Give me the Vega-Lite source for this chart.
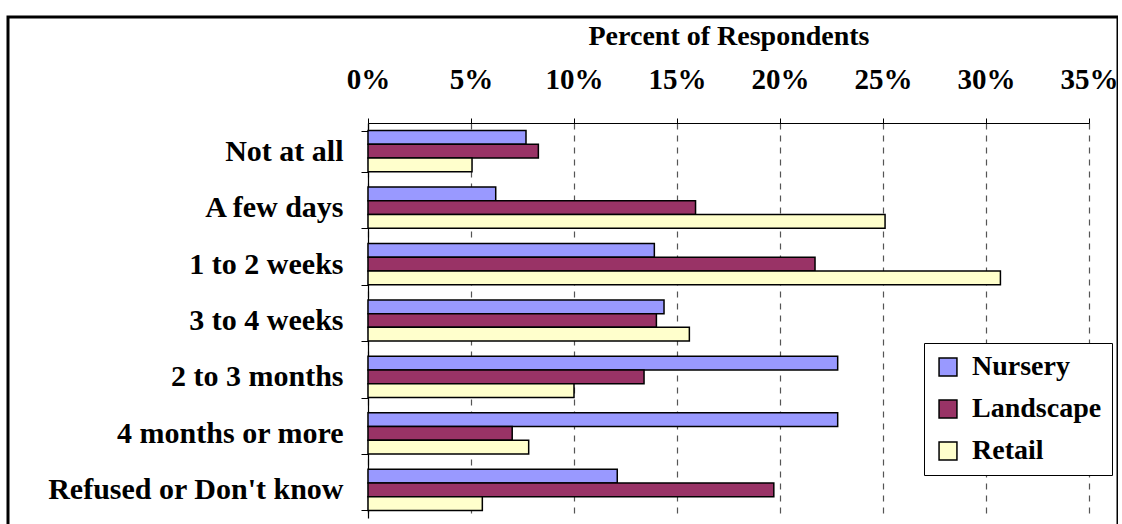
{
  "$schema": "https://vega.github.io/schema/vega-lite/v6.json",
  "autosize": {"type": "none"},
  "padding": {"left": 8, "top": 17, "right": 0, "bottom": 0},
  "width": 1110,
  "height": 515,
  "background": "white",
  "data": {
    "values": [
      {"cat": "Not at all", "series": "Nursery", "pct": 0.0767},
      {"cat": "Not at all", "series": "Landscape", "pct": 0.0827},
      {"cat": "Not at all", "series": "Retail", "pct": 0.0505},
      {"cat": "A few days", "series": "Nursery", "pct": 0.062},
      {"cat": "A few days", "series": "Landscape", "pct": 0.159},
      {"cat": "A few days", "series": "Retail", "pct": 0.251},
      {"cat": "1 to 2 weeks", "series": "Nursery", "pct": 0.139},
      {"cat": "1 to 2 weeks", "series": "Landscape", "pct": 0.217},
      {"cat": "1 to 2 weeks", "series": "Retail", "pct": 0.307},
      {"cat": "3 to 4 weeks", "series": "Nursery", "pct": 0.1437},
      {"cat": "3 to 4 weeks", "series": "Landscape", "pct": 0.14},
      {"cat": "3 to 4 weeks", "series": "Retail", "pct": 0.156},
      {"cat": "2 to 3 months", "series": "Nursery", "pct": 0.228},
      {"cat": "2 to 3 months", "series": "Landscape", "pct": 0.134},
      {"cat": "2 to 3 months", "series": "Retail", "pct": 0.1},
      {"cat": "4 months or more", "series": "Nursery", "pct": 0.228},
      {"cat": "4 months or more", "series": "Landscape", "pct": 0.07},
      {"cat": "4 months or more", "series": "Retail", "pct": 0.078},
      {"cat": "Refused or Don't know", "series": "Nursery", "pct": 0.121},
      {"cat": "Refused or Don't know", "series": "Landscape", "pct": 0.197},
      {"cat": "Refused or Don't know", "series": "Retail", "pct": 0.0555}
    ]
  },
  "mark": {"type": "bar", "stroke": "black", "strokeWidth": 1.5},
  "encoding": {
    "y": {
      "field": "cat",
      "type": "nominal",
      "sort": ["Not at all", "A few days", "1 to 2 weeks", "3 to 4 weeks", "2 to 3 months", "4 months or more", "Refused or Don't know"],
      "scale": {"range": [106, 501], "paddingInner": 0.27, "paddingOuter": 0.135},
      "axis": {
        "title": null,
        "orient": "left",
        "offset": -360,
        "labelFont": "Liberation Serif",
        "labelFontWeight": "bold",
        "labelFontSize": 30,
        "labelColor": "black",
        "labelPadding": 18,
        "labelLimit": 0,
        "tickBand": "extent",
        "tickSize": 7,
        "tickColor": "black",
        "domainColor": "black",
        "domainWidth": 1.2,
        "grid": false
      }
    },
    "yOffset": {
      "field": "series",
      "type": "nominal",
      "sort": ["Nursery", "Landscape", "Retail"],
      "scale": {"paddingInner": 0, "paddingOuter": 0}
    },
    "x": {
      "field": "pct",
      "type": "quantitative",
      "scale": {"domain": [0, 0.35], "range": [360, 1081], "nice": false, "zero": true},
      "axis": {
        "title": "Percent of Respondents",
        "orient": "top",
        "offset": -106,
        "values": [0, 0.05, 0.1, 0.15, 0.2, 0.25, 0.3, 0.35],
        "format": ".0%",
        "labelFont": "Liberation Serif",
        "labelFontWeight": "bold",
        "labelFontSize": 29,
        "labelColor": "black",
        "labelPadding": 24,
        "labelOverlap": false,
        "labelFlush": false,
        "tickSize": 5,
        "tickColor": "black",
        "domainColor": "black",
        "domainWidth": 1.2,
        "titleFont": "Liberation Serif",
        "titleFontWeight": "bold",
        "titleFontSize": 28,
        "titleColor": "black",
        "titlePadding": 15,
        "grid": true,
        "gridColor": "#555555",
        "gridDash": [6, 6],
        "gridWidth": 1.2
      }
    },
    "color": {
      "field": "series",
      "type": "nominal",
      "sort": ["Nursery", "Landscape", "Retail"],
      "scale": {"domain": ["Nursery", "Landscape", "Retail"], "range": ["#9999FF", "#993366", "#FFFFCC"]},
      "legend": {
        "title": null,
        "orient": "none",
        "legendX": 916,
        "legendY": 326,
        "direction": "vertical",
        "symbolType": "square",
        "symbolSize": 320,
        "symbolStrokeColor": "black",
        "symbolStrokeWidth": 1.5,
        "symbolOpacity": 1,
        "labelFont": "Liberation Serif",
        "labelFontWeight": "bold",
        "labelFontSize": 28,
        "labelColor": "black",
        "labelOffset": 10,
        "labelLimit": 0,
        "rowPadding": 14,
        "padding": 10,
        "strokeColor": "black",
        "fillColor": "white"
      }
    }
  },
  "config": {
    "view": {"stroke": "black", "strokeWidth": 3}
  }
}
